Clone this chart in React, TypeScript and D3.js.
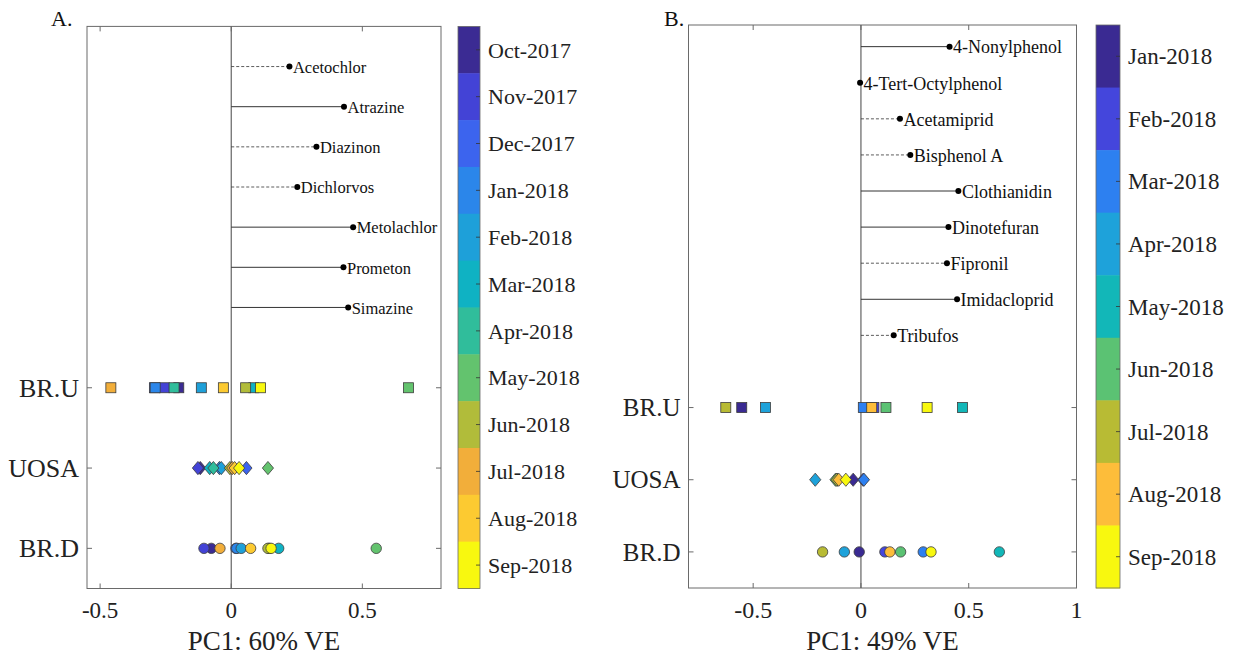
import React from 'react';
import * as d3 from 'd3';

// ---- Panel A: sampling months and colours (parula steps) ----
const monthsA = ['Oct-2017', 'Nov-2017', 'Dec-2017', 'Jan-2018', 'Feb-2018', 'Mar-2018', 'Apr-2018', 'May-2018', 'Jun-2018', 'Jul-2018', 'Aug-2018', 'Sep-2018'];
const coloursA = ['#3b2b93', '#4343d6', '#3c64ee', '#2b86ea', '#1ea0d9', '#0fb2c3', '#30bd9b', '#63c36e', '#b1bc3a', '#f2ae3a', '#fcca31', '#f8f80f'];

// ---- Panel B: sampling months and colours ----
const monthsB = ['Jan-2018', 'Feb-2018', 'Mar-2018', 'Apr-2018', 'May-2018', 'Jun-2018', 'Jul-2018', 'Aug-2018', 'Sep-2018'];
const coloursB = ['#3a2a92', '#4446dc', '#2d80f0', '#1ea2da', '#12b7b8', '#5bc273', '#b8bb34', '#fdbd3a', '#f8f80f'];

// Sites on the y axis (bottom to top)
const sites = ['BR.D', 'UOSA', 'BR.U'];

// ---- Panel A compound loadings ----
const compoundsA = ['Acetochlor', 'Atrazine', 'Diazinon', 'Dichlorvos', 'Metolachlor', 'Prometon', 'Simazine'];
const loadingsA = [0.222, 0.43, 0.325, 0.252, 0.465, 0.428, 0.446];
const dashedA = [true, false, true, true, false, false, false];

// ---- Panel A PC1 scores per site, one per month (Oct-2017 .. Sep-2018) ----
const scoresA_BRD = [-0.076, -0.104, 0.018, 0.021, 0.038, 0.181, 0.145, 0.553, 0.14, -0.043, 0.074, 0.152];
const scoresA_UOSA = [-0.118, -0.127, 0.058, -0.045, -0.038, -0.082, -0.068, 0.14, -0.005, 0.004, 0.013, 0.03];
const scoresA_BRU = [-0.2, -0.255, -0.293, -0.29, -0.114, 0.086, -0.218, 0.676, 0.055, -0.459, -0.03, 0.112];

// ---- Panel B compound loadings ----
const compoundsB = ['4-Nonylphenol', '4-Tert-Octylphenol', 'Acetamiprid', 'Bisphenol A', 'Clothianidin', 'Dinotefuran', 'Fipronil', 'Imidacloprid', 'Tribufos'];
const loadingsB = [0.411, -0.004, 0.181, 0.229, 0.452, 0.406, 0.399, 0.446, 0.152];
const dashedB = [false, false, true, true, false, false, true, false, true];

// ---- Panel B PC1 scores per site, one per month (Jan-2018 .. Sep-2018) ----
const scoresB_BRD = [-0.008, 0.111, 0.289, -0.077, 0.642, 0.184, -0.178, 0.134, 0.325];
const scoresB_UOSA = [-0.036, 0.01, 0.014, -0.212, -0.11, -0.118, -0.112, -0.103, -0.07];
const scoresB_BRU = [-0.553, 0.06, 0.011, -0.443, 0.471, 0.116, -0.627, 0.05, 0.307];

const xTicksA = [-0.5, 0, 0.5];
const xTicksB = [-0.5, 0, 0.5, 1];

const FONT = "'Liberation Serif', 'Times New Roman', serif";
const AXIS = '#6a6a6a';

type PanelProps = {
  id: string;
  letter: string;
  letterX: number;
  left: number;
  right: number;
  top: number;
  bottom: number;
  xDomain: [number, number];
  yMax: number;
  xTicks: number[];
  xTitle: string;
  compounds: string[];
  loadings: number[];
  dashed: boolean[];
  topRow: number;
  scoresBRD: number[];
  scoresUOSA: number[];
  scoresBRU: number[];
  months: string[];
  colours: string[];
  cbLeft: number;
  cbRight: number;
  fs: { ytick: number; xtick: number; title: number; label: number; cb: number };
};

function Panel(p: PanelProps) {
  const x = d3.scaleLinear().domain(p.xDomain).range([p.left, p.right]);
  const y = d3.scaleLinear().domain([0, p.yMax]).range([p.bottom, p.top]);
  const siteRows = [1, 3, 5];
  const tickLen = 5;

  const cb = d3
    .scaleBand<string>()
    .domain(p.months)
    .range([p.top, p.bottom])
    .paddingInner(0)
    .paddingOuter(0);

  const sq = 5;
  const dw = 5.6;
  const dh = 6.6;
  const edge = '#3c3c3c';
  const clipId = 'clip-' + p.id;

  const squares = p.scoresBRU.map((v, i) => (
    <rect
      key={'s' + i}
      x={x(v) - sq}
      y={y(5) - sq}
      width={sq * 2}
      height={sq * 2}
      fill={p.colours[i]}
      stroke={edge}
      strokeWidth={0.8}
    />
  ));
  const diamonds = p.scoresUOSA.map((v, i) => {
    const cx = x(v);
    const cy = y(3);
    return (
      <path
        key={'d' + i}
        d={`M${cx},${cy - dh}L${cx + dw},${cy}L${cx},${cy + dh}L${cx - dw},${cy}Z`}
        fill={p.colours[i]}
        stroke={edge}
        strokeWidth={0.8}
      />
    );
  });
  const circles = p.scoresBRD.map((v, i) => (
    <circle key={'c' + i} cx={x(v)} cy={y(1)} r={5.2} fill={p.colours[i]} stroke={edge} strokeWidth={0.8} />
  ));

  return (
    <g fontFamily={FONT}>
      <defs>
        <clipPath id={clipId}>
          <rect x={p.left} y={p.top} width={p.right - p.left} height={p.bottom - p.top} />
        </clipPath>
      </defs>
      <text x={p.letterX} y={26} fontSize={22} fill="#111">
        {p.letter}
      </text>

      {/* axes box */}
      <rect x={p.left} y={p.top} width={p.right - p.left} height={p.bottom - p.top} fill="#fff" stroke={AXIS} strokeWidth={1} />

      {/* zero line */}
      <line x1={x(0)} x2={x(0)} y1={p.top} y2={p.bottom} stroke="#555" strokeWidth={1.1} />

      {/* x ticks (inward, top and bottom) */}
      {p.xTicks.map((t) => (
        <g key={'xt' + t}>
          <line x1={x(t)} x2={x(t)} y1={p.bottom} y2={p.bottom - tickLen} stroke={AXIS} />
          <line x1={x(t)} x2={x(t)} y1={p.top} y2={p.top + tickLen} stroke={AXIS} />
          <text x={x(t)} y={618} fontSize={p.fs.xtick} textAnchor="middle" fill="#222">
            {t === 0 ? '0' : String(t)}
          </text>
        </g>
      ))}

      {/* y ticks for sites */}
      {siteRows.map((r, i) => (
        <g key={'yt' + r}>
          <line x1={p.left} x2={p.left + tickLen} y1={y(r)} y2={y(r)} stroke={AXIS} />
          <line x1={p.right} x2={p.right - tickLen} y1={y(r)} y2={y(r)} stroke={AXIS} />
          <text x={p.left - 8} y={y(r)} dy="0.35em" fontSize={p.fs.ytick} textAnchor="end" fill="#222">
            {sites[i]}
          </text>
        </g>
      ))}

      <text x={(p.left + p.right) / 2} y={650} fontSize={p.fs.title} textAnchor="middle" fill="#222">
        {p.xTitle}
      </text>

      {/* compound loadings */}
      <g clipPath={`url(#${clipId})`}>
        {p.compounds.map((name, i) => {
          const row = p.topRow - i;
          const lx = x(p.loadings[i]);
          return (
            <g key={name}>
              <line
                x1={x(0)}
                x2={lx}
                y1={y(row)}
                y2={y(row)}
                stroke="#333"
                strokeWidth={p.dashed[i] ? 0.8 : 1}
                strokeDasharray={p.dashed[i] ? '3,2' : undefined}
              />
              <circle cx={lx} cy={y(row)} r={3} fill="#000" />
              <text x={lx + 3.5} y={y(row)} dy="0.38em" fontSize={p.fs.label} fill="#111">
                {name}
              </text>
            </g>
          );
        })}
      </g>

      {/* scores: squares BR.U, diamonds UOSA, circles BR.D */}
      <g>{squares}</g>
      <g>{diamonds}</g>
      <g>{circles}</g>

      {/* colour bar */}
      <g>
        {p.months.map((m, i) => (
          <rect key={m} x={p.cbLeft} y={cb(m)} width={p.cbRight - p.cbLeft} height={cb.bandwidth() + 0.5} fill={p.colours[i]} />
        ))}
        <rect x={p.cbLeft} y={p.top} width={p.cbRight - p.cbLeft} height={p.bottom - p.top} fill="none" stroke={AXIS} strokeWidth={0.8} />
        {p.months.map((m) => {
          const cy = (cb(m) as number) + cb.bandwidth() / 2;
          return (
            <g key={'l' + m}>
              <line x1={p.cbRight} x2={p.cbRight - 4} y1={cy} y2={cy} stroke="#333" strokeWidth={0.8} />
              <text x={p.cbRight + 8} y={cy} dy="0.35em" fontSize={p.fs.cb} fill="#222">
                {m}
              </text>
            </g>
          );
        })}
      </g>
    </g>
  );
}

export default function App() {
  return (
    <svg
      width={1238}
      height={657}
      viewBox="0 0 1238 657"
      style={{ position: 'absolute', left: 0, top: 0, display: 'block', background: '#fff' }}
    >
      <rect width={1238} height={657} fill="#fff" />
      <Panel
        id="a"
        letter="A."
        letterX={51}
        left={87}
        right={441}
        top={26.4}
        bottom={588.5}
        xDomain={[-0.55, 0.8]}
        yMax={14}
        xTicks={xTicksA}
        xTitle="PC1: 60% VE"
        compounds={compoundsA}
        loadings={loadingsA}
        dashed={dashedA}
        topRow={13}
        scoresBRD={scoresA_BRD}
        scoresUOSA={scoresA_UOSA}
        scoresBRU={scoresA_BRU}
        months={monthsA}
        colours={coloursA}
        cbLeft={458}
        cbRight={480}
        fs={{ ytick: 26, xtick: 23, title: 27, label: 16.5, cb: 22 }}
      />
      <Panel
        id="b"
        letter="B."
        letterX={664}
        left={688.5}
        right={1076.5}
        top={25}
        bottom={588}
        xDomain={[-0.8, 1]}
        yMax={15.6}
        xTicks={xTicksB}
        xTitle="PC1: 49% VE"
        compounds={compoundsB}
        loadings={loadingsB}
        dashed={dashedB}
        topRow={15}
        scoresBRD={scoresB_BRD}
        scoresUOSA={scoresB_UOSA}
        scoresBRU={scoresB_BRU}
        months={monthsB}
        colours={coloursB}
        cbLeft={1096}
        cbRight={1120}
        fs={{ ytick: 25, xtick: 24, title: 27, label: 18, cb: 23 }}
      />
    </svg>
  );
}
